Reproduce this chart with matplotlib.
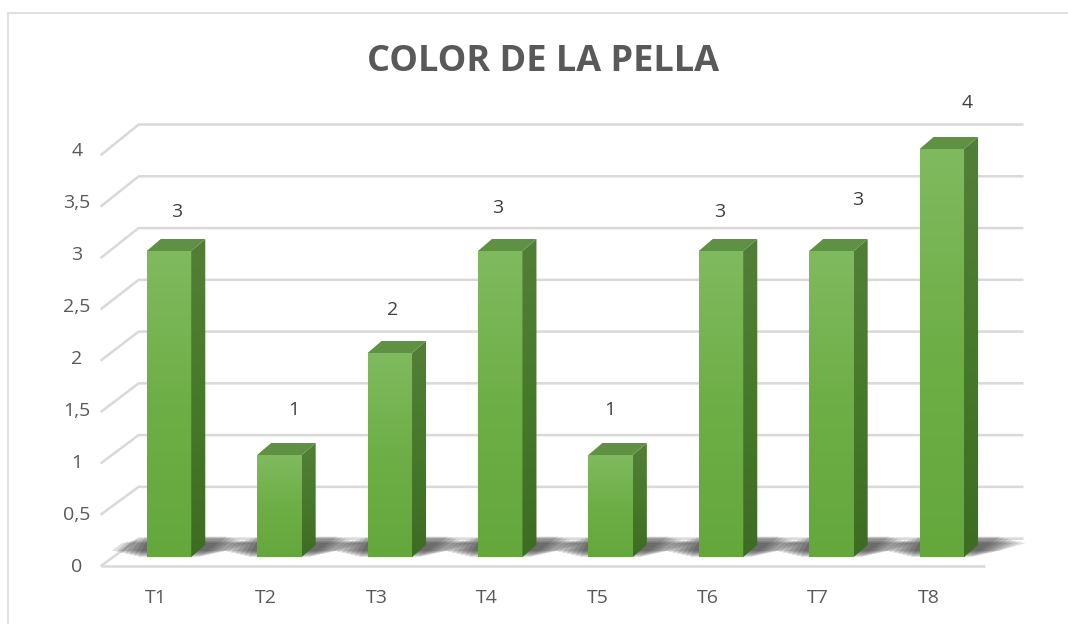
import numpy as np
import matplotlib
matplotlib.use("Agg")
import matplotlib.pyplot as plt
from matplotlib.patches import Polygon, Rectangle
from matplotlib.colors import LinearSegmentedColormap

# chart data
categories = ["T1", "T2", "T3", "T4", "T5", "T6", "T7", "T8"]
values = [3, 1, 2, 3, 1, 3, 3, 4]
y_ticks = [0, 0.5, 1, 1.5, 2, 2.5, 3, 3.5, 4]
y_tick_labels = ["0", "0,5", "1", "1,5", "2", "2,5", "3", "3,5", "4"]

# label nudges (data units), Excel placed these slightly off-centre
label_dx = [0.07, 0.13, 0.03, -0.02, -0.01, -0.01, 0.24, 0.23]
label_dy = [0.38, 0.44, 0.42, 0.42, 0.44, 0.38, 0.50, 0.45]

W, H = 1068, 624
fig = plt.figure(figsize=(W / 100, H / 100), dpi=100)
fig.patch.set_facecolor("white")

# axes placed so that index 0 -> px 169 and value 0 -> px 557
px_per_x = 110.4
px_per_y = 102.0
xlim = (-0.6, 7.75)
ylim = (-0.15, 4.3)
left = 169 + xlim[0] * px_per_x
right = 169 + xlim[1] * px_per_x
bottom = 557 - ylim[0] * px_per_y
top = 557 - ylim[1] * px_per_y
ax = fig.add_axes([left / W, 1 - bottom / H, (right - left) / W, (bottom - top) / H])
ax.set_xlim(*xlim)
ax.set_ylim(*ylim)
ax.axis("off")

bar_w = 0.403
depth_x = 0.127
depth_y = 0.118

grid_col = "#d9d9d9"
text_col = "#595959"

# back wall / floor gridlines
x_front_l, x_back_l, x_back_r, x_front_r = -0.62, -0.275, 7.74, 7.39
for v in y_ticks:
    yf = v * 1.007 - 0.09
    yb = v * 1.015 + 0.18
    ax.plot([x_front_l, x_back_l, x_back_r], [yf, yb, yb], color=grid_col, lw=1.8,
            solid_capstyle="butt", clip_on=False, zorder=1)
    if v == 0:
        ax.plot([x_front_l, x_front_r], [yf, yf], color=grid_col, lw=1.8,
                solid_capstyle="butt", clip_on=False, zorder=1)

# soft shadows on the floor, one blob per bar
for i, v in enumerate(values):
    x0 = i - bar_w / 2
    x1 = i + bar_w / 2
    for k in range(7):
        g = 0.04 * (6 - k)
        shadow = Polygon([(x0 - 0.08 - g, 0.0 + g * 0.25), (x1 + 0.08 + g, 0.0 + g * 0.25),
                          (x1 + depth_x + 0.2 + g, 0.2 - g * 0.25),
                          (x0 + 0.02 - g, 0.2 - g * 0.25)],
                         closed=True, facecolor="#222222", edgecolor="none", alpha=0.14, zorder=2)
        ax.add_patch(shadow)

front_cmap = LinearSegmentedColormap.from_list("front", ["#64a83c", "#6eae46", "#80ba5f"])
side_cmap = LinearSegmentedColormap.from_list("side", ["#3d6c23", "#467a2b", "#527f37"])
grad = np.linspace(0, 1, 256).reshape(-1, 1)

for i, v in enumerate(values):
    x0 = i - bar_w / 2
    x1 = i + bar_w / 2
    # front face with vertical gradient
    ax.imshow(grad, extent=(x0, x1, 0, v), origin="lower", cmap=front_cmap,
              aspect="auto", zorder=3, interpolation="bilinear")
    # side face
    side = Polygon([(x1, 0), (x1 + depth_x, depth_y), (x1 + depth_x, v + depth_y), (x1, v)],
                   closed=True, facecolor="none", edgecolor="none")
    ax.add_patch(side)
    im = ax.imshow(grad, extent=(x1, x1 + depth_x, 0, v + depth_y), origin="lower",
                   cmap=side_cmap, aspect="auto", zorder=3, interpolation="bilinear")
    im.set_clip_path(side)
    # top face
    ax.add_patch(Polygon([(x0, v), (x1, v), (x1 + depth_x, v + depth_y), (x0 + depth_x, v + depth_y)],
                         closed=True, facecolor="#5f9142", edgecolor="none", zorder=4))
    # value labels
    ax.text(i + label_dx[i], v + label_dy[i], str(v), ha="center", va="center",
            fontsize=14, color="#404040", family="Open Sans", zorder=5)
    # category labels
    ax.text(i - 0.12, -0.40, categories[i], ha="center", va="center",
            fontsize=14, color=text_col, family="Open Sans")

ax.set_xlim(*xlim)
ax.set_ylim(*ylim)

# y tick labels
for v, lab in zip(y_ticks, y_tick_labels):
    ax.text(-0.835, v * 1.02 - 0.1, lab, ha="center", va="center",
            fontsize=14, color=text_col, family="Open Sans", clip_on=False)

fig.text(543 / W, 1 - 62 / H, "COLOR DE LA PELLA", ha="center", va="center",
         fontsize=26, fontweight="bold", color=text_col, family="Open Sans")

# chart border
fig.add_artist(Rectangle((8 / W, -0.1), 1.1, 1 - 13 / H + 0.1, transform=fig.transFigure,
                         facecolor="none", edgecolor=grid_col, lw=1.2))

fig.savefig("out.png", dpi=100)
